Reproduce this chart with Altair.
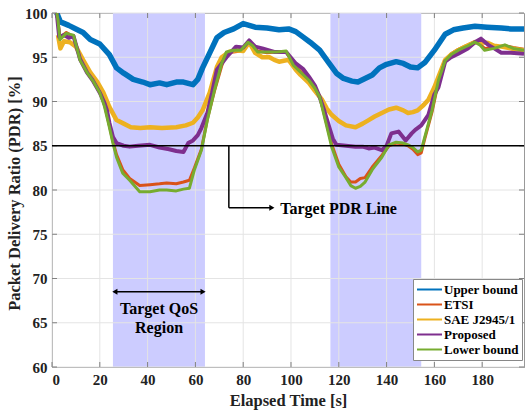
import altair as alt
import pandas as pd

# ---------------- data ----------------
series_names = ["Upper bound", "ETSI", "SAE J2945/1", "Proposed", "Lower bound"]
series_colors = ["#0072BD", "#D95319", "#EDB120", "#7E2F8E", "#77AC30"]

upper_t = [2, 3.5, 7, 10, 13, 16, 20, 24, 27, 30, 34, 38, 41, 45, 48, 52, 55, 59, 61, 63, 66, 69, 72, 76,
           80, 85, 90, 95, 99, 102, 105, 108, 112, 116, 119, 122, 125.5, 128, 131, 134, 137, 140, 144,
           147, 150, 153, 156, 160, 164.5, 168, 172, 177, 182, 188, 192, 197.5]
upper_v = [100, 99.0, 98.6, 98.2, 97.8, 97.0, 96.5, 95.3, 93.8, 93.2, 92.5, 92.2, 91.9, 92.1, 91.9, 92.2,
           92.2, 91.9, 92.5, 93.8, 95.5, 97.2, 97.8, 98.2, 98.8, 98.4, 98.3, 98.1, 98.2, 97.9, 97.3, 96.7,
           95.8, 94.3, 93.2, 92.6, 92.3, 92.2, 92.6, 93.0, 93.8, 94.2, 94.5, 94.3, 93.9, 93.8, 94.4, 95.8,
           97.6, 98.1, 98.3, 98.5, 98.4, 98.3, 98.2, 98.2]

sae_t = [2.5, 3.5, 5, 7.5, 10, 13, 16, 19, 21.5, 24, 27, 30, 33, 37, 41, 46, 52, 56, 59, 61, 63, 66, 69,
         71, 74, 77, 80, 82.5, 85, 88, 91, 93, 95, 97, 99, 102, 104, 107.5, 110, 113, 115, 117, 120, 123,
         127, 130, 132.5, 135, 138, 141, 144, 147, 149, 151, 153, 155.5, 157.5, 160, 162, 164.5, 167,
         170, 173, 177, 180, 182.5, 185, 188, 192, 197.5]
sae_v = [97.5, 96.0, 96.8, 96.7, 96.2, 94.7, 93.3, 92.2, 91.0, 89.4, 87.9, 87.5, 87.1, 87.0, 87.1, 87.0,
         87.1, 87.3, 87.6, 88.2, 89.0, 91.0, 93.9, 95.0, 95.6, 95.8, 95.7, 96.7, 95.5, 95.0, 95.0, 94.7,
         94.5, 94.6, 94.7, 93.6, 93.0, 92.1, 91.2, 90.2, 89.2, 88.5, 87.8, 87.3, 87.1, 87.5, 87.9, 88.3,
         88.7, 89.1, 89.3, 89.0, 88.7, 88.8, 89.0, 89.6, 90.2, 91.6, 93.0, 94.7, 95.3, 95.8, 96.2, 96.7,
         96.7, 96.6, 96.3, 96.2, 96.0, 95.8]

prop_t = [2, 3, 5, 7, 9, 11.7, 14.6, 17, 20, 22, 23, 24, 25.5, 27, 30, 32.5, 36, 41, 45, 49, 52, 55, 57,
          59, 61, 62.5, 65, 67, 69, 71, 73, 77, 80, 82.5, 85, 88, 93, 98, 102, 105, 107.5, 110, 112, 114,
          116, 117.5, 119, 123, 127, 130, 132.5, 135, 138, 140, 142, 145, 148, 150.5, 152, 154.5, 157.5,
          160, 161.7, 164.5, 167, 170, 174, 177, 179.5, 182.5, 185, 188, 192, 197.5]
prop_v = [100, 97.3, 97.5, 97.2, 97.4, 94.8, 93.3, 92.4, 91.0, 89.8, 89.0, 87.6, 86.0, 85.3, 85.0, 84.9,
          85.0, 85.1, 84.8, 84.6, 84.4, 84.3, 85.3, 85.6, 86.2, 87.0, 88.7, 91.0, 93.6, 94.3, 95.0, 96.2,
          96.1, 96.9, 96.2, 96.0, 95.6, 95.6, 94.3, 93.7, 92.8, 91.8, 90.5, 88.9, 87.1, 85.8, 85.1, 85.0,
          84.9, 84.9, 84.7, 84.8, 84.5, 85.0, 86.4, 86.6, 85.6, 86.4, 86.8, 87.3, 88.5, 90.8, 91.6, 94.5,
          95.0, 95.4, 96.0, 96.7, 97.1, 96.4, 96.0, 95.5, 95.5, 95.4]

low_t = [2, 2.5, 3.3, 6, 9, 11.7, 14.6, 17, 20, 22, 24, 25.5, 27, 29.6, 32.5, 36.7, 41, 45, 48, 52, 55,
         57.5, 59.6, 62.5, 65, 68, 71, 73, 76, 79, 82, 84, 86, 90, 94, 98, 101, 104, 107.5, 110, 112,
         114.6, 117, 120, 123, 125, 127, 129, 131, 134, 138, 141, 144, 147, 149, 151, 153, 154.5, 156,
         159, 161.7, 164.5, 167, 170, 174, 177, 179, 181, 185, 189.5, 193, 197.5]
low_v = [100, 99.2, 97.0, 97.7, 97.5, 94.7, 93.3, 92.4, 91.0, 89.4, 87.1, 85.3, 83.7, 81.9, 81.1, 79.8,
         79.8, 80.0, 80.0, 79.9, 80.1, 80.2, 82.3, 84.5, 87.9, 91.3, 94.3, 95.6, 95.8, 95.8, 96.7, 96.3,
         95.6, 95.6, 95.6, 95.7, 94.1, 93.3, 92.4, 91.5, 90.5, 87.6, 84.9, 82.6, 81.4, 80.5, 80.2, 80.4,
         80.9, 82.3, 83.7, 85.1, 85.4, 85.3, 85.1, 84.8, 84.3, 84.5, 86.0, 89.0, 92.4, 94.6, 95.3, 95.8,
         96.3, 96.7, 96.4, 95.8, 96.0, 96.4, 96.0, 95.8]

etsi_t = low_t
etsi_v = [100, 99.0, 97.2, 97.8, 97.3, 95.0, 93.5, 92.5, 91.2, 89.6, 87.3, 85.5, 84.0, 82.3, 81.3, 80.5,
          80.6, 80.7, 80.8, 80.7, 80.9, 81.1, 82.5, 84.6, 88.0, 91.2, 94.0, 95.5, 95.6, 95.7, 96.6, 96.5,
          95.7, 95.5, 95.6, 95.6, 94.2, 93.4, 92.5, 91.6, 90.6, 87.8, 85.2, 82.9, 81.5, 80.9, 80.9, 81.3,
          81.4, 82.6, 83.9, 85.0, 85.3, 85.2, 85.0, 84.6, 84.0, 84.2, 85.8, 88.8, 92.2, 94.5, 95.4, 95.9,
          96.4, 96.8, 96.5, 96.0, 96.1, 96.3, 96.1, 95.9]

region_start = [25.5, 116.5]
region_end = [64, 154.5]

x_ticks = [0, 20, 40, 60, 80, 100, 120, 140, 160, 180]
y_ticks = [60, 65, 70, 75, 80, 85, 90, 95, 100]

target_pdr = 85

# ---------------- build ----------------
W, H = 472, 354
FONT = "Liberation Serif"
xs = alt.Scale(domain=[0, 197.5], nice=False, zero=False)
ys = alt.Scale(domain=[60, 100], nice=False, zero=False)
cscale = alt.Scale(domain=series_names, range=series_colors)

series_data = {
    "Upper bound": (upper_t, upper_v, 5.5),
    "ETSI": (etsi_t, etsi_v, 3),
    "SAE J2945/1": (sae_t, sae_v, 4.5),
    "Proposed": (prop_t, prop_v, 4),
    "Lower bound": (low_t, low_v, 3),
}

regions = pd.DataFrame({"s": region_start, "e": region_end})
rect = alt.Chart(regions).mark_rect(color="#CCCCFF").encode(
    x=alt.X("s:Q", scale=xs, axis=alt.Axis(
        values=x_ticks, grid=False, tickSize=0, labelFont=FONT, labelFontWeight="bold",
        labelFontSize=15, labelColor="#222222", labelPadding=5, domainColor="#999999",
        title="Elapsed Time [s]", titleFont=FONT, titleFontWeight="bold", titleFontSize=16.5,
        titleColor="#222222", titleX=W / 2, titleY=33, titleBaseline="middle")),
    x2="e:Q",
    y=alt.value(0), y2=alt.value(H),
)

vgrid = alt.Chart(pd.DataFrame({"v": x_ticks})).mark_rule(color="#e4e4e4", strokeWidth=1).encode(
    x=alt.X("v:Q", scale=xs), y=alt.value(0), y2=alt.value(H))
hgrid = alt.Chart(pd.DataFrame({"v": y_ticks})).mark_rule(color="#e4e4e4", strokeWidth=1).encode(
    y=alt.Y("v:Q", scale=ys, axis=alt.Axis(
        values=y_ticks, grid=False, tickSize=0, labelFont=FONT, labelFontWeight="bold",
        labelFontSize=15, labelColor="#222222", labelPadding=5, domainColor="#999999",
        title="Packet Delivery Ratio (PDR) [%]", titleFont=FONT, titleFontWeight="bold",
        titleFontSize=16.5, titleColor="#222222", titleX=-38, titleY=H / 2 + 3,
        titleBaseline="middle")),
    x=alt.value(0), x2=alt.value(W))

# inner tick marks
xt_bot = alt.Chart(pd.DataFrame({"v": x_ticks})).mark_rule(color="#808080").encode(
    x=alt.X("v:Q", scale=xs), y=alt.value(H - 5), y2=alt.value(H))
xt_top = alt.Chart(pd.DataFrame({"v": x_ticks})).mark_rule(color="#808080").encode(
    x=alt.X("v:Q", scale=xs), y=alt.value(0), y2=alt.value(5))
yt_left = alt.Chart(pd.DataFrame({"v": y_ticks})).mark_rule(color="#808080").encode(
    y=alt.Y("v:Q", scale=ys), x=alt.value(0), x2=alt.value(5))
yt_right = alt.Chart(pd.DataFrame({"v": y_ticks})).mark_rule(color="#808080").encode(
    y=alt.Y("v:Q", scale=ys), x=alt.value(W - 5), x2=alt.value(W))

legend = alt.Legend(
    orient="none", legendX=361, legendY=266, title=None, symbolType="M-1.92,0L1.92,0",
    symbolSize=169, symbolStrokeWidth=2, symbolOffset=6, labelFont=FONT, labelFontWeight="bold",
    labelFontSize=13, labelColor="black", strokeColor="#888888", fillColor="white",
    padding=3, rowPadding=0, labelOffset=7, labelLimit=200, cornerRadius=0)

line_layers = []
for i, name in enumerate(series_names):
    t, v, w = series_data[name]
    d = pd.DataFrame({"t": t, "pdr": v, "series": name, "k": list(range(len(t)))})
    line_layers.append(
        alt.Chart(d).mark_line(strokeWidth=w, clip=True, strokeJoin="round").encode(
            x=alt.X("t:Q", scale=xs),
            y=alt.Y("pdr:Q", scale=ys),
            color=alt.Color("series:N", scale=cscale, legend=legend if i == 0 else None),
            order="k:Q",
        )
    )

hline = alt.Chart(pd.DataFrame({"y": [target_pdr]})).mark_rule(color="black", strokeWidth=1.5).encode(
    y=alt.Y("y:Q", scale=ys), x=alt.value(0), x2=alt.value(W))

vseg = alt.Chart(pd.DataFrame({"x": [74], "y": [85], "y2": [78]})).mark_rule(
    color="black", strokeWidth=1.5).encode(x=alt.X("x:Q", scale=xs), y=alt.Y("y:Q", scale=ys), y2="y2:Q")
hseg = alt.Chart(pd.DataFrame({"x": [74], "x2": [91.5], "y": [78]})).mark_rule(
    color="black", strokeWidth=1.5).encode(x=alt.X("x:Q", scale=xs), x2="x2:Q", y=alt.Y("y:Q", scale=ys))
head1 = alt.Chart(pd.DataFrame({"x": [92], "y": [78]})).mark_point(
    shape="triangle-right", filled=True, color="black", size=35, opacity=1).encode(
    x=alt.X("x:Q", scale=xs), y=alt.Y("y:Q", scale=ys))

dseg = alt.Chart(pd.DataFrame({"x": [26.5], "x2": [63], "y": [68.5]})).mark_rule(
    color="black", strokeWidth=1.5).encode(x=alt.X("x:Q", scale=xs), x2="x2:Q", y=alt.Y("y:Q", scale=ys))
headL = alt.Chart(pd.DataFrame({"x": [26.3], "y": [68.5]})).mark_point(
    shape="triangle-left", filled=True, color="black", size=35, opacity=1).encode(
    x=alt.X("x:Q", scale=xs), y=alt.Y("y:Q", scale=ys))
headR = alt.Chart(pd.DataFrame({"x": [63.2], "y": [68.5]})).mark_point(
    shape="triangle-right", filled=True, color="black", size=35, opacity=1).encode(
    x=alt.X("x:Q", scale=xs), y=alt.Y("y:Q", scale=ys))

txt_pdr = alt.Chart(pd.DataFrame({"x": [95.5], "y": [77.8], "s": ["Target PDR Line"]})).mark_text(
    font=FONT, fontWeight="bold", fontSize=16, align="left", baseline="middle", color="black").encode(
    x=alt.X("x:Q", scale=xs), y=alt.Y("y:Q", scale=ys), text="s:N")
txt_qos = alt.Chart(pd.DataFrame({"x": [44.8, 44.8], "y": [66.6, 64.4], "s": ["Target QoS", "Region"]})).mark_text(
    font=FONT, fontWeight="bold", fontSize=16, align="center", baseline="middle", color="black").encode(
    x=alt.X("x:Q", scale=xs), y=alt.Y("y:Q", scale=ys), text="s:N")

chart = alt.layer(
    rect, vgrid, hgrid, xt_bot, xt_top, yt_left, yt_right, *line_layers,
    hline, vseg, hseg, head1, dseg, headL, headR, txt_pdr, txt_qos
).properties(
    width=W, height=H, autosize="none",
    padding={"left": 52, "top": 13, "right": 2, "bottom": 47},
    background="white",
).configure_view(stroke="#999999", strokeWidth=1)

chart.save("out.html", embed_options={"renderer": "svg", "actions": False})
